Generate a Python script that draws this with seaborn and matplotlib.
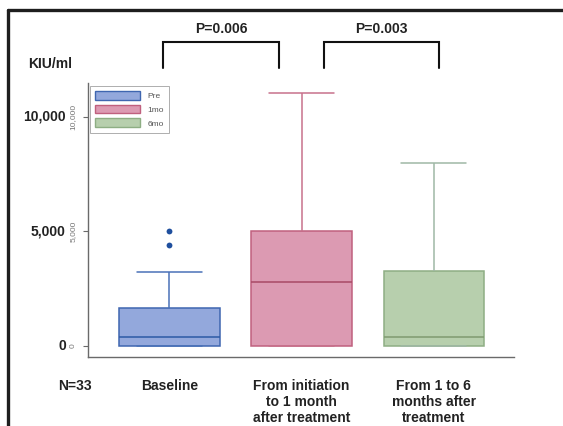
import numpy as np
import pandas as pd
import matplotlib
matplotlib.use("Agg")
import matplotlib.pyplot as plt
from matplotlib.patches import Patch
from matplotlib.lines import Line2D
import seaborn as sns

# five-number summaries (KIU/ml)
groups = ["Baseline", "From initiation\nto 1 month\nafter treatment", "From 1 to 6\nmonths after\ntreatment"]
periods = ["Pre", "1mo", "6mo"]
whis_low = [0, 0, 0]
q1 = [0, 0, 0]
medians = [393, 2795, 393]
q3 = [1672, 5000, 3275]
whis_high = [3245, 11050, 8000]

# outliers (baseline only)
flier_group = ["Baseline", "Baseline"]
flier_values = [4400, 5000]

yticks = [0, 5000, 10000]
ytick_labels = ["0", "5,000", "10,000"]

pvalues = ["P=0.006", "P=0.003"]
pairs = [(0, 1), (1, 2)]

fill_colors = ["#93a8dc", "#dc9ab2", "#b7cfad"]
edge_colors = ["#3f66b0", "#c0607e", "#8eae84"]
median_colors = ["#2d5aa6", "#a84a66", "#7f9a70"]
whisker_colors = ["#4a72b8", "#c8718c", "#9fb8a6"]

rows = []
for g, p, a, b, c, d, e in zip(groups, periods, whis_low, q1, medians, q3, whis_high):
    for v in (a, b, c, d, e):
        rows.append({"group": g, "period": p, "value": v})
df = pd.DataFrame(rows)

sns.set_style("ticks")
plt.rcParams["font.family"] = ["Liberation Sans", "DejaVu Sans"]

fig = plt.figure(figsize=(5.63, 4.26), dpi=100)
ax = fig.add_axes([88 / 563, 1 - 357 / 426, 426 / 563, 274 / 426])

sns.boxplot(data=df, x="group", y="value", hue="period", order=groups,
            hue_order=periods, palette=fill_colors, saturation=1, width=0.76,
            linewidth=1.1, whis=1.5, legend=False, capwidths=0.49, ax=ax)
sns.stripplot(x=flier_group, y=flier_values, order=groups, jitter=False,
              color="#1f4f9e", size=4.2, ax=ax)

# recolour each box's outline, whiskers and median
for patch in ax.patches:
    i = int(round(np.mean(patch.get_path().vertices[:, 0])))
    patch.set_edgecolor(edge_colors[i])
for ln in ax.lines:
    xd = np.asarray(ln.get_xdata(), dtype=float)
    if len(xd) == 0 or ln.get_linestyle() == "None":
        continue
    i = int(round(xd.mean()))
    yd = np.asarray(ln.get_ydata(), dtype=float)
    if len(yd) == 2 and yd[0] == yd[1] and yd[0] == medians[i] and abs(xd[1] - xd[0]) > 0.6:
        ln.set_color(median_colors[i])
    else:
        ln.set_color(whisker_colors[i])

ax.set_xlim(-0.614, 2.606)
ax.set_ylim(-480, 11470)
sns.despine(ax=ax)
for s in ("left", "bottom"):
    ax.spines[s].set_color("#6a6a6a")
    ax.spines[s].set_linewidth(1.0)

ax.set_xlabel("")
ax.set_ylabel("")
ax.set_xticks(range(len(groups)))
ax.set_xticklabels(groups, fontsize=10, fontweight="bold", color="#222222",
                   linespacing=1.15, va="top")
ax.tick_params(axis="x", length=0, pad=16)

ax.set_yticks(yticks)
ax.set_yticklabels(ytick_labels, rotation=90, va="center", fontsize=6, color="#777777")
ax.tick_params(axis="y", length=3.5, width=0.8, color="#6a6a6a", pad=5)
trans = matplotlib.transforms.blended_transform_factory(ax.transAxes, ax.transData)
for v, lab in zip(yticks, ytick_labels):
    ax.text(-0.052, v, lab, transform=trans, ha="right", va="center",
            fontsize=10, fontweight="bold", color="#222222")

# significance brackets
y_low, y_high = 12140, 13275
for (a, b), txt in zip(pairs, pvalues):
    xa = a - 0.045 if a == 0 else a + 0.167
    xb = b - 0.167 if b == 1 else b + 0.04
    ax.plot([xa, xa, xb, xb], [y_low, y_high, y_high, y_low], color="#111111",
            lw=1.5, clip_on=False, solid_joinstyle="miter")
    ax.annotate(txt, xy=((xa + xb) / 2, y_high), xytext=(0, 4),
                textcoords="offset points", ha="center", va="bottom",
                fontsize=10, fontweight="bold", color="#222222", annotation_clip=False)

handles = [Patch(facecolor=f, edgecolor=e, linewidth=1.0) for f, e in zip(fill_colors, edge_colors)]
leg = ax.legend(handles, periods, loc="upper left", bbox_to_anchor=(0.005, 0.99),
                fontsize=6, handlelength=5.4, handleheight=1.25, labelspacing=0.55,
                borderpad=0.6, handletextpad=0.9, frameon=True, fancybox=False,
                borderaxespad=0)
leg.get_frame().set_edgecolor("#999999")
leg.get_frame().set_linewidth(0.7)
for t in leg.get_texts():
    t.set_color("#555555")

fig.text(28 / 563, 1 - 64 / 426, "KIU/ml", ha="left", va="center",
         fontsize=10, fontweight="bold", color="#222222")
fig.text(75 / 563, 1 - 379 / 426, "N=33", ha="center", va="top",
         fontsize=10, fontweight="bold", color="#222222")

# scanned frame: top and left edges
fig.add_artist(Line2D([8 / 563, 1.0], [1 - 9.5 / 426] * 2, color="#1e1e1e", lw=2.4,
                      transform=fig.transFigure))
fig.add_artist(Line2D([8 / 563] * 2, [0.0, 1 - 9.5 / 426], color="#1e1e1e", lw=2.4,
                      transform=fig.transFigure))

fig.savefig("out.png", dpi=100)
